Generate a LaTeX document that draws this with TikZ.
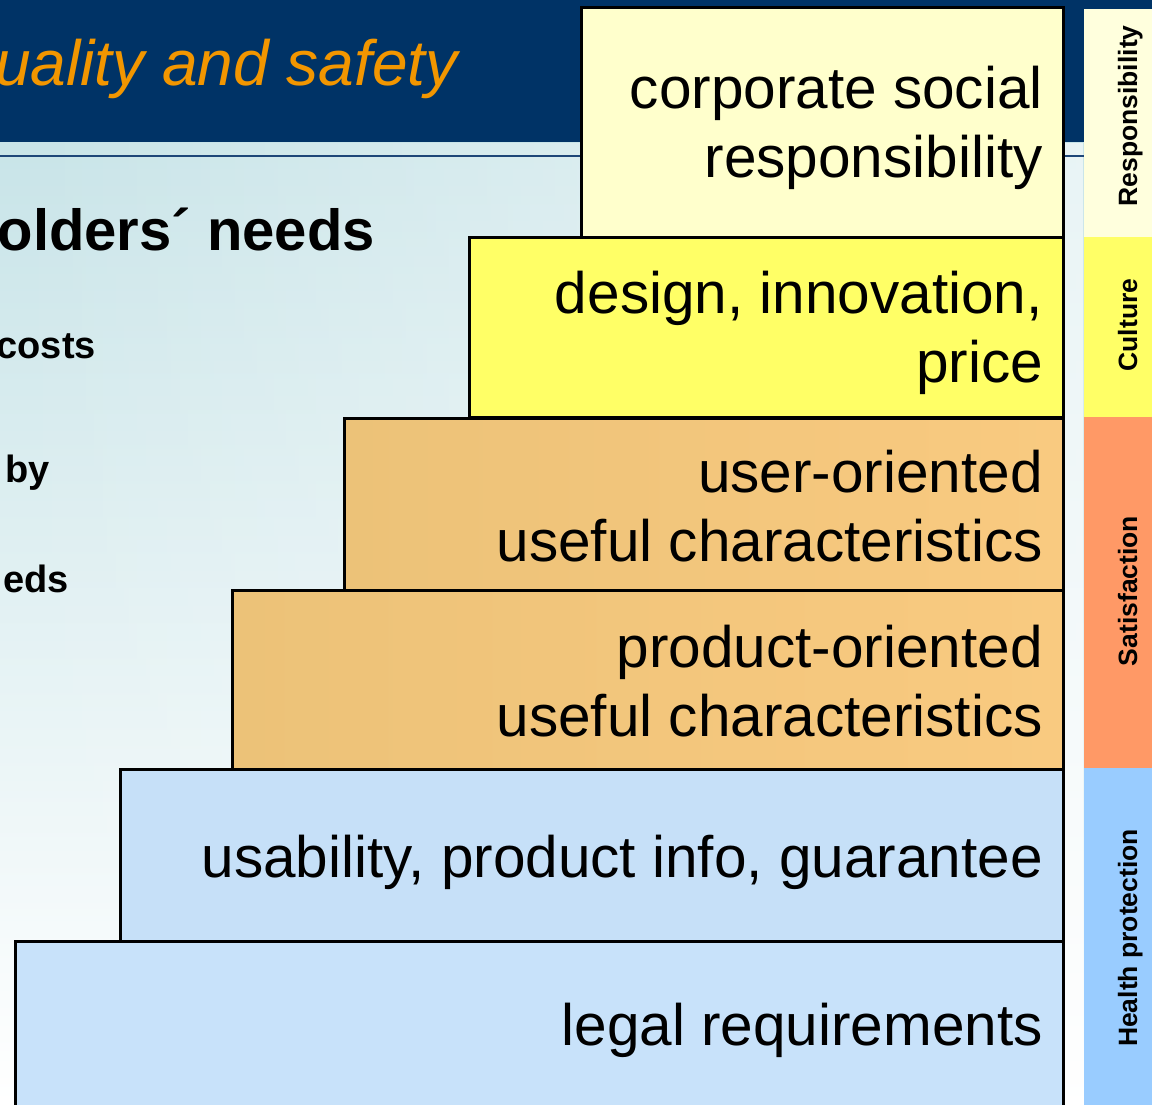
\documentclass[tikz,border=0pt]{standalone}
\usepackage{fontspec}
\setmainfont{Liberation Sans}
\usetikzlibrary{fadings}

\definecolor{navy}{RGB}{0,51,102}
\definecolor{rulecol}{RGB}{30,70,120}
\definecolor{titleorange}{RGB}{242,150,0}
\definecolor{bgtop}{RGB}{200,228,232}
\definecolor{cream}{RGB}{255,255,204}
\definecolor{lemon}{RGB}{255,255,102}
\definecolor{tanL}{RGB}{236,194,120}
\definecolor{tanR}{RGB}{249,202,128}
\definecolor{skyA}{RGB}{198,224,248}
\definecolor{skyB}{RGB}{200,226,250}
\definecolor{stripResp}{RGB}{255,255,221}
\definecolor{stripCult}{RGB}{255,255,102}
\definecolor{stripSat}{RGB}{255,153,102}
\definecolor{stripHealth}{RGB}{153,204,255}

\tikzset{
  stepbox/.style={draw=black, line width=2.6pt, inner sep=0pt, anchor=north west},
  % multi-line labels: the base anchor sits on the last line
  boxlabel/.style={inner sep=0pt, align=right, anchor=base east,
    font=\fontsize{58.5}{69}\selectfont},
  sidetext/.style={inner sep=0pt, anchor=base west, font=\bfseries\fontsize{38}{44}\selectfont},
  bandlabel/.style={inner sep=0pt, rotate=90, anchor=base,
    font=\bfseries\fontsize{26.5}{30}\selectfont},
  band/.style={inner sep=0pt, anchor=north west, minimum width=68pt}
}

\begin{document}
\begin{tikzpicture}[x=1pt,y=-1pt]
\clip (0,0) rectangle (1152,1104);

% slide background below the header
\shade[top color=bgtop, bottom color=white] (0,142) rectangle (1084,1104);
\fill[white, fill opacity=0.6, path fading=west] (0,142) rectangle (1084,1104);

% header band and rule
\fill[navy] (0,0) rectangle (1152,142);
\draw[rulecol, line width=2pt] (0,156) -- (1084,156);

% header and left-hand texts
\node[inner sep=0pt, anchor=base east, text=titleorange,
      font=\itshape\fontsize{64}{72}\selectfont] (title) at (458,85) {uality and safety};
\node[inner sep=0pt, anchor=base west, font=\bfseries\fontsize{58}{66}\selectfont]
      (needs) at (-2.5,250) {olders´ needs};
\node[sidetext, anchor=base east] (costs) at (96,358) {costs};
\node[sidetext] (by) at (5.5,482) {by};
\node[sidetext, anchor=base east] (eds) at (69,592) {eds};

% stacked steps
\node[stepbox, fill=skyB, minimum width=1048pt, minimum height=170pt] (legal) at (14,940) {};
\node[stepbox, fill=skyA, minimum width=943pt, minimum height=172pt] (usab) at (119,768) {};
\node[stepbox, left color=tanL, right color=tanR, minimum width=831pt, minimum height=179pt] (prod) at (231,589) {};
\node[stepbox, left color=tanL, right color=tanR, minimum width=719pt, minimum height=172pt] (user) at (343,417) {};
\node[stepbox, fill=lemon, minimum width=594pt, minimum height=180pt] (design) at (468,236) {};
\node[stepbox, fill=cream, minimum width=482pt, minimum height=230pt] (csr) at (580,6) {};

% step labels
\node[boxlabel] (csr-t) at (1043,177) {corporate social\\responsibility};
\node[boxlabel] (design-t) at (1043,382) {design, innovation,\\price};
\node[boxlabel] (user-t) at (1043,561) {user-oriented\\useful characteristics};
\node[boxlabel] (prod-t) at (1043,736) {product-oriented\\useful characteristics};
\node[boxlabel] (usab-t) at (1043,877) {usability, product info, guarantee};
\node[boxlabel] (legal-t) at (1043,1045) {legal requirements};

% category strip on the right
\node[band, fill=stripResp, minimum height=228pt] (resp) at (1084,9) {};
\node[band, fill=stripCult, minimum height=180pt] (cult) at (1084,237) {};
\node[band, fill=stripSat, minimum height=351pt] (sat) at (1084,417) {};
\node[band, fill=stripHealth, minimum height=340pt] (health) at (1084,768) {};

\node[bandlabel] (resp-t) at (1137,116) {Responsibility};
\node[bandlabel] (cult-t) at (1137,325) {Culture};
\node[bandlabel] (sat-t) at (1137,591) {Satisfaction};
\node[bandlabel] (health-t) at (1137,938) {Health protection};
\end{tikzpicture}
\end{document}
